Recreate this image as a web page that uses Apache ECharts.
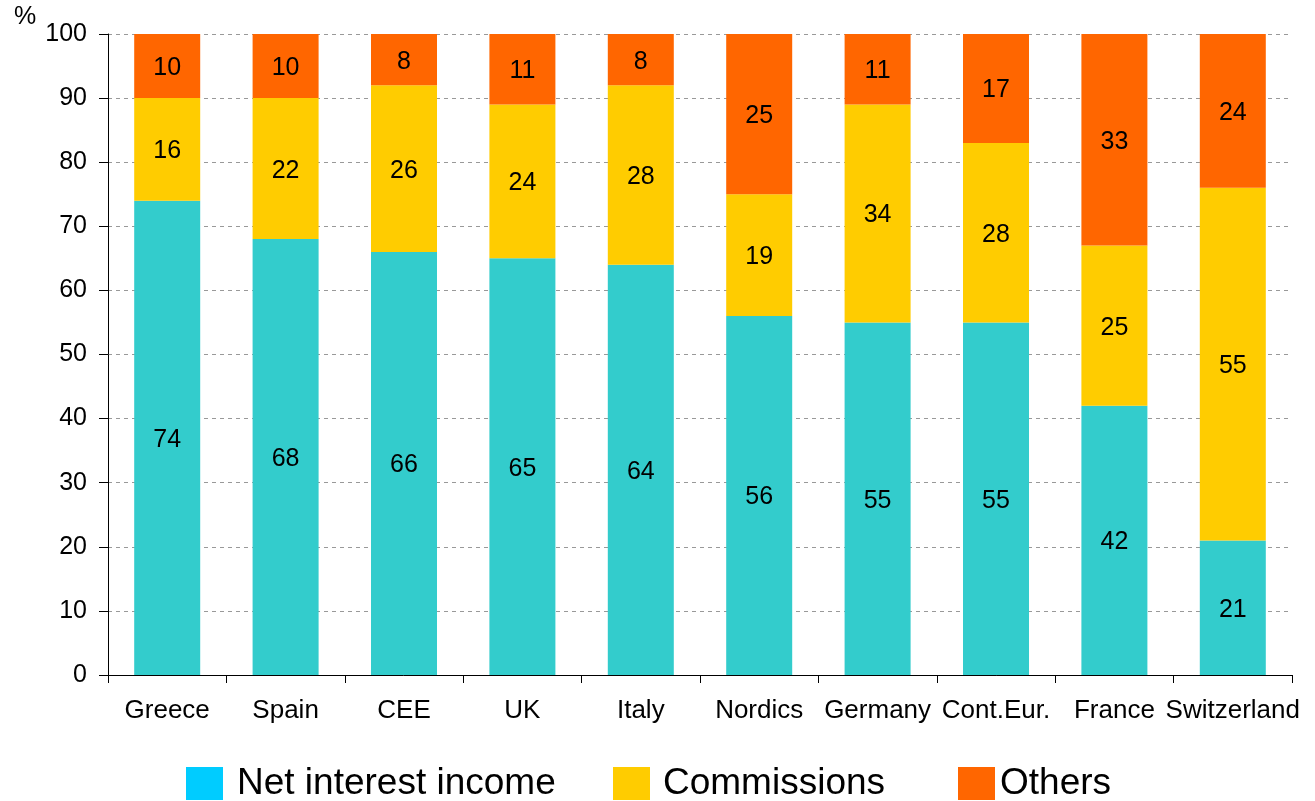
<!DOCTYPE html>
<html>
<head>
<meta charset="utf-8">
<title>Income structure by region</title>
<script src="https://cdn.jsdelivr.net/npm/echarts@6/dist/echarts.min.js"></script>
<style>
  html, body { margin: 0; padding: 0; background: #ffffff; }
  #chart { width: 1315px; height: 801px; }
</style>
</head>
<body>
<div id="chart"></div>
<script>
// Share of operating income by source, in %
const categories = ['Greece', 'Spain', 'CEE', 'UK', 'Italy', 'Nordics', 'Germany', 'Cont.Eur.', 'France', 'Switzerland'];
const netInterestIncome = [74, 68, 66, 65, 64, 56, 55, 55, 42, 21];
const commissions = [16, 22, 26, 24, 28, 19, 34, 28, 25, 55];
const others = [10, 10, 8, 11, 8, 25, 11, 17, 33, 24];
const seriesNames = ['Net interest income', 'Commissions', 'Others'];
const yTicks = { min: 0, max: 100, interval: 10 };

const FONT = '"Liberation Sans", Arial, sans-serif';
const barColors = ['#33CCCC', '#FFCC00', '#FF6600'];
const legendColors = ['#00CCFF', '#FFCC00', '#FF6600'];
const legendLeft = [186, 613, 958];
const legendTextPad = [9, 8, 0];

const chart = echarts.init(document.getElementById('chart'), null, { renderer: 'canvas' });

function makeSeries(name, values, color) {
  return {
    name: name,
    type: 'bar',
    stack: 'total',
    data: values,
    barWidth: 66,
    itemStyle: { color: color },
    label: {
      show: true,
      position: 'inside',
      offset: [0, 2],
      color: '#000000',
      fontFamily: FONT,
      fontSize: 25
    },
    emphasis: { disabled: true }
  };
}

// one legend block per series so each entry can sit at its own spot
const legends = seriesNames.map((name, i) => ({
  data: [{ name: name, itemStyle: { color: legendColors[i] } }],
  left: legendLeft[i],
  top: 765,
  padding: 0,
  itemWidth: 37,
  itemHeight: 33,
  icon: 'rect',
  textStyle: {
    fontFamily: FONT,
    fontSize: 37,
    color: '#000000',
    padding: [0, 0, 0, legendTextPad[i]]
  }
}));

chart.setOption({
  backgroundColor: '#ffffff',
  animation: false,
  textStyle: { fontFamily: FONT },
  legend: legends,
  grid: { left: 108, right: 23, top: 34, bottom: 126, containLabel: false },
  xAxis: {
    type: 'category',
    data: categories,
    boundaryGap: true,
    axisLine: { lineStyle: { color: '#000000', width: 1 } },
    axisTick: { show: true, length: 8, lineStyle: { color: '#000000' } },
    axisLabel: { color: '#000000', fontSize: 26, fontFamily: FONT, margin: 23, interval: 0 }
  },
  yAxis: {
    type: 'value',
    min: yTicks.min,
    max: yTicks.max,
    interval: yTicks.interval,
    axisLine: { show: true, lineStyle: { color: '#000000', width: 1 } },
    axisTick: { show: true, length: 9, lineStyle: { color: '#000000' } },
    axisLabel: { color: '#000000', fontSize: 25, fontFamily: FONT, margin: 21 },
    splitLine: { show: true, lineStyle: { color: '#999999', type: [4, 4], width: 1 } }
  },
  graphic: [{
    type: 'text',
    left: 14,
    top: 5,
    style: { text: '%', fontFamily: FONT, fontSize: 25, fill: '#000000' }
  }],
  series: [
    makeSeries(seriesNames[0], netInterestIncome, barColors[0]),
    makeSeries(seriesNames[1], commissions, barColors[1]),
    makeSeries(seriesNames[2], others, barColors[2])
  ]
});
</script>
</body>
</html>
